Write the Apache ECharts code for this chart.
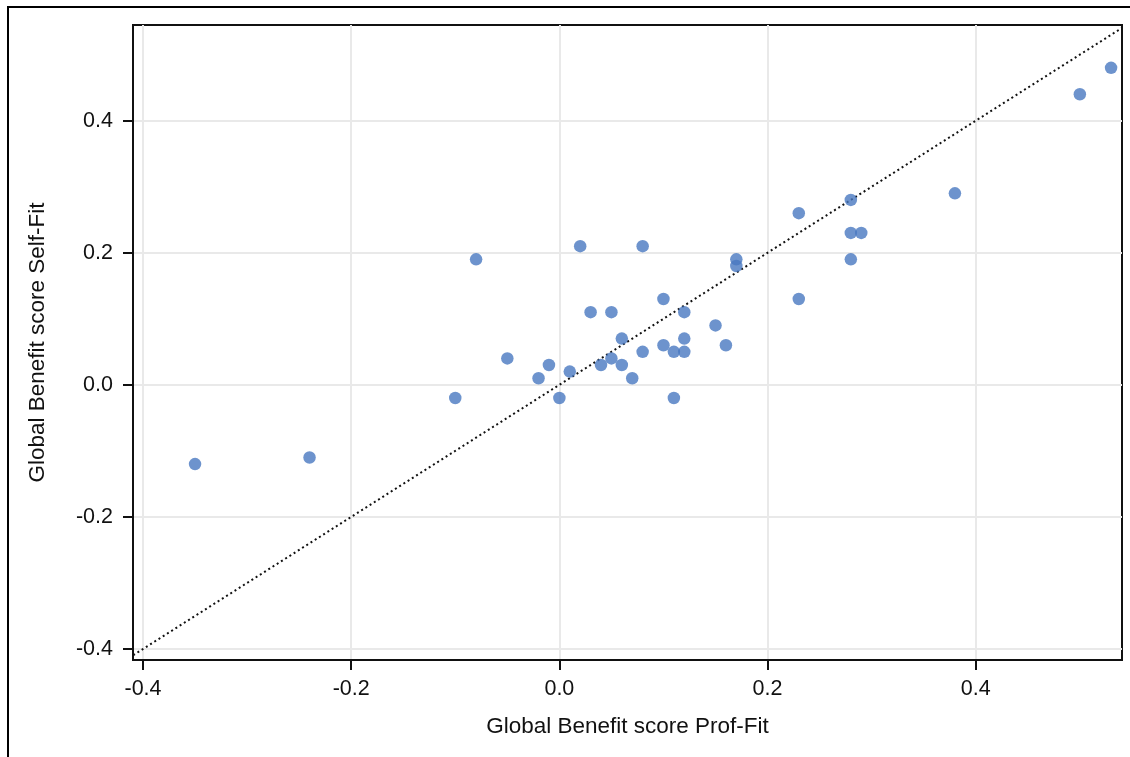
<!DOCTYPE html>
<html>
<head>
<meta charset="utf-8">
<script src="https://cdn.jsdelivr.net/npm/echarts@6/dist/echarts.min.js"></script>
<style>
html,body{margin:0;padding:0;background:#fff;}
#chart{width:1130px;height:757px;}
</style>
</head>
<body>
<div id="chart"></div>
<script>
var profFit = [-0.35,-0.24,-0.10,-0.08,-0.05,-0.02,-0.01,0.00,0.01,0.02,0.03,0.04,0.05,0.05,0.06,0.06,0.07,0.08,0.08,0.10,0.10,0.11,0.11,0.12,0.12,0.12,0.15,0.16,0.17,0.17,0.23,0.23,0.28,0.28,0.29,0.28,0.38,0.50,0.53];
var selfFit = [-0.12,-0.11,-0.02,0.19,0.04,0.01,0.03,-0.02,0.02,0.21,0.11,0.03,0.11,0.04,0.07,0.03,0.01,0.21,0.05,0.13,0.06,0.05,-0.02,0.11,0.07,0.05,0.09,0.06,0.19,0.18,0.26,0.13,0.28,0.23,0.23,0.19,0.29,0.44,0.48];
var tickValues = [-0.4,-0.2,0.0,0.2,0.4];
var xRange = [-0.4096, 0.5405];
var yRange = [-0.4167, 0.5449];
var identityLine = [-0.6, 0.7];

var pts = profFit.map(function(x,i){return [x, selfFit[i]];});
var fmt = function(v){ return v.toFixed(1); };
var font = '"Liberation Sans", Arial, sans-serif';

function axis(range, name, isY){
  return {
    type:'value', min:range[0], max:range[1], interval:0.2,
    name:name, nameLocation:'middle', nameGap: isY ? 84 : 55,
    nameTextStyle:{fontFamily:font,fontSize:22.5,color:'#111'},
    axisLine:{show:true,onZero:false,lineStyle:{color:'#111',width:2}},
    axisTick:{show:true,inside:false,length:10,customValues:tickValues,lineStyle:{color:'#111',width:2}},
    axisLabel:{show:true,customValues:tickValues,margin:isY?20:18,formatter:fmt,fontFamily:font,fontSize:21.5,color:'#111'},
    splitLine:{show:true,lineStyle:{color:'#e9e9e9',width:2}}
  };
}

var chart = echarts.init(document.getElementById('chart'));
chart.setOption({
  animation:false,
  backgroundColor:'#fff',
  graphic:[{type:'rect',shape:{x:8,y:7,width:1200,height:800},style:{fill:null,stroke:'#000',lineWidth:2},z:-1}],
  grid:{left:133,top:25,right:8,bottom:97,show:true,borderColor:'#111',borderWidth:2,backgroundColor:'transparent'},
  xAxis: axis(xRange,'Global Benefit score Prof-Fit',false),
  yAxis: axis(yRange,'Global Benefit score Self-Fit',true),
  series:[
    {type:'line',data:identityLine.map(function(v){return [v,v];}),clip:true,symbol:'none',
     lineStyle:{color:'#111',width:2,type:[2,3]},z:3,silent:true},
    {type:'scatter',data:pts,symbolSize:12.5,itemStyle:{color:'#4878c0'},z:4}
  ]
});
</script>
</body>
</html>
